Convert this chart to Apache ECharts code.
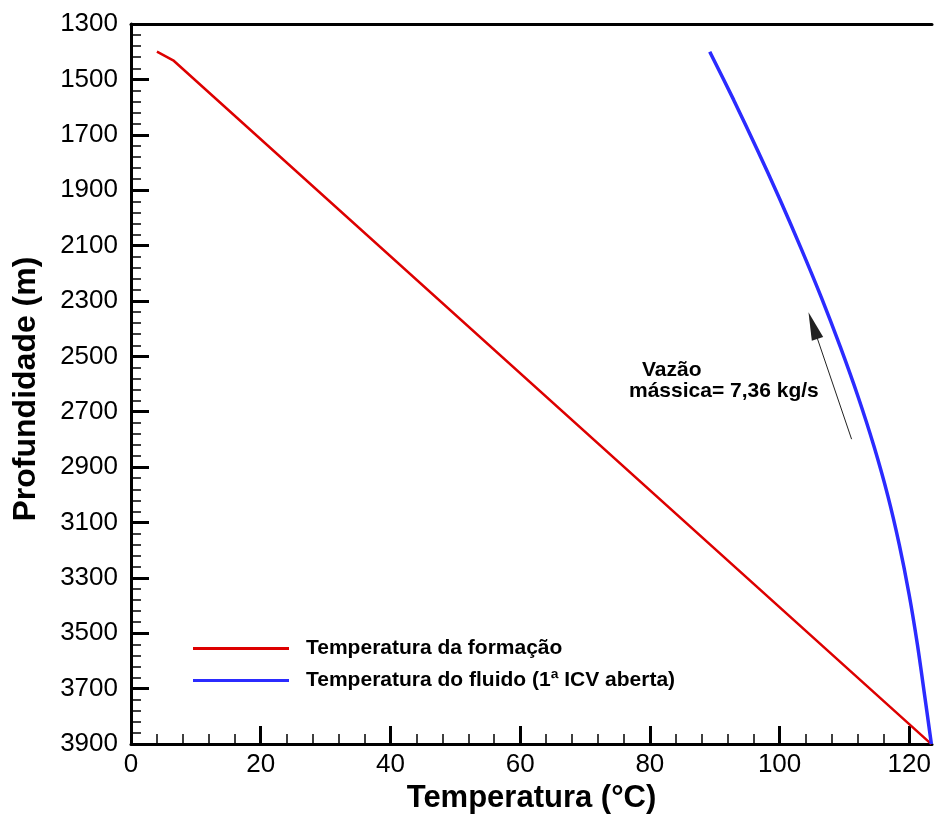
<!DOCTYPE html>
<html>
<head>
<meta charset="utf-8">
<script src="https://cdn.jsdelivr.net/npm/echarts@6/dist/echarts.min.js"></script>
<style>
  html, body { margin: 0; padding: 0; background: #fff; }
  #chart { width: 934px; height: 819px; }
</style>
</head>
<body>
<div id="chart"></div>
<script>
// Formation temperature profile: [temperature °C, depth m]
const formationTemp = [[4.0, 1400], [6.5, 1431], [123.4, 3900]];
// Fluid temperature along the well with the first ICV open: [temperature °C, depth m]
const fluidTemp = [
  [89.23, 1400], [92.92, 1574], [96.54, 1753], [100.0, 1931], [103.31, 2110],
  [106.45, 2288], [109.38, 2467], [112.09, 2645], [114.54, 2824], [116.68, 3003],
  [118.46, 3181], [119.97, 3360], [121.23, 3538], [122.32, 3717], [123.4, 3900]
];
const seriesNames = ['Temperatura da formação', 'Temperatura do fluido (1ª ICV aberta)'];
const seriesColors = ['#dd0000', '#2b2bff'];
const xTickLabels = [0, 20, 40, 60, 80, 100, 120];
const yTickLabels = [1300, 1500, 1700, 1900, 2100, 2300, 2500, 2700, 2900, 3100, 3300, 3500, 3700, 3900];
// Flow-direction arrow (tail, head) in data units
const arrowTail = [111.1, 2799];
const arrowHead = [105.15, 2389];
const flowLabel = ['Vazão', 'mássica= 7,36 kg/s'];

const FONT = "'Liberation Sans', Arial, Helvetica, sans-serif";
const X_MIN = 0, X_MAX = 123.5;
const Y_MIN = yTickLabels[0], Y_MAX = yTickLabels[yTickLabels.length - 1];

// minor ticks every 4 °C between the labelled ones
const xMinorTicks = [];
for (let v = 4; v < X_MAX; v += 4) { if (v % 20 !== 0) xMinorTicks.push(v); }

const chart = echarts.init(document.getElementById('chart'), null, { renderer: 'canvas' });

chart.setOption({
  animation: false,
  backgroundColor: '#fff',
  grid: { left: 131, right: 0, top: 24, bottom: 67, containLabel: false },
  xAxis: [
    {
      type: 'value', min: X_MIN, max: X_MAX, interval: 20, position: 'bottom',
      name: 'Temperatura (°C)', nameLocation: 'middle', nameGap: 32,
      nameTextStyle: { fontFamily: FONT, fontSize: 31, fontWeight: 'bold', color: '#000' },
      axisLine: { show: true, onZero: false, lineStyle: { color: '#000', width: 3 } },
      axisTick: { show: true, inside: true, length: 18, lineStyle: { color: '#000', width: 3 },
                  customValues: xTickLabels },
      axisLabel: { show: true, fontFamily: FONT, fontSize: 26, color: '#000', margin: 8,
                   customValues: xTickLabels, formatter: v => String(v) },
      splitLine: { show: false }
    },
    {
      type: 'value', min: X_MIN, max: X_MAX, interval: 4, position: 'bottom',
      axisLine: { show: false },
      axisTick: { show: true, inside: true, length: 10, lineStyle: { color: '#000', width: 1.5 },
                  customValues: xMinorTicks },
      axisLabel: { show: false },
      splitLine: { show: false }
    },
    {
      type: 'value', min: X_MIN, max: X_MAX, position: 'top',
      axisLine: { show: true, onZero: false, lineStyle: { color: '#000', width: 3 } },
      axisTick: { show: false }, axisLabel: { show: false }, splitLine: { show: false }
    }
  ],
  yAxis: [{
    type: 'value', min: Y_MIN, max: Y_MAX, interval: 200, inverse: true,
    name: 'Profundidade (m)', nameLocation: 'middle', nameGap: 89,
    nameTextStyle: { fontFamily: FONT, fontSize: 32, fontWeight: 'bold', color: '#000',
                     padding: [0, 10, 0, 0] },
    axisLine: { show: true, onZero: false, lineStyle: { color: '#000', width: 3 } },
    axisTick: { show: true, inside: true, length: 18, lineStyle: { color: '#000', width: 3 } },
    minorTick: { show: true, splitNumber: 5, length: 10, lineStyle: { color: '#000', width: 1.5 } },
    axisLabel: { fontFamily: FONT, fontSize: 26, color: '#000', margin: 13, formatter: v => String(v) },
    splitLine: { show: false }
  }],
  legend: {
    orient: 'vertical', left: 193, top: 637, padding: 0,
    itemWidth: 96, itemHeight: 3, itemGap: 9,
    icon: 'rect',
    data: seriesNames.map((n, i) => ({ name: n, itemStyle: { color: seriesColors[i] } })),
    textStyle: { fontFamily: FONT, fontSize: 21, fontWeight: 'bold', color: '#000',
                 lineHeight: 23, padding: [0, 0, 0, 12] },
    selectedMode: false
  },
  series: [
    {
      name: seriesNames[0], type: 'line', data: formationTemp,
      symbol: 'none', showSymbol: false,
      lineStyle: { color: seriesColors[0], width: 2.5 }, itemStyle: { color: seriesColors[0] },
      z: 3
    },
    {
      name: seriesNames[1], type: 'line', data: fluidTemp,
      symbol: 'none', showSymbol: false, smooth: 0.3,
      lineStyle: { color: seriesColors[1], width: 3.5 }, itemStyle: { color: seriesColors[1] },
      z: 4,
      markLine: {
        silent: true, animation: false,
        symbol: ['none', 'triangle'], symbolSize: [12, 28],
        label: { show: false },
        lineStyle: { color: '#222', width: 1, type: 'solid' },
        itemStyle: { color: '#000' },
        emphasis: { disabled: true },
        data: [[{ coord: arrowTail }, { coord: arrowHead }]]
      }
    }
  ],
  graphic: [
    { type: 'text', left: 642, top: 360, silent: true,
      style: { text: flowLabel[0], font: 'bold 21px ' + FONT, fill: '#000' } },
    { type: 'text', left: 629, top: 381, silent: true,
      style: { text: flowLabel[1], font: 'bold 21px ' + FONT, fill: '#000' } }
  ]
});
</script>
</body>
</html>
